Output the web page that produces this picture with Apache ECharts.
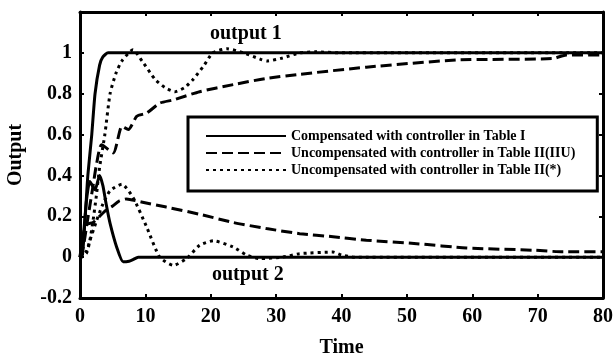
<!DOCTYPE html>
<html>
<head>
<meta charset="utf-8">
<script src="https://cdn.jsdelivr.net/npm/echarts@6/dist/echarts.min.js"></script>
<style>
  html, body { margin: 0; padding: 0; background: #fff; }
  #chart { width: 614px; height: 354px; }
</style>
</head>
<body>
<div id="chart"></div>
<script>
// [time, output] pairs
const comp1 = [[0, 0], [0.3, 0], [0.6, 0.1], [0.9, 0.25], [1.2, 0.4], [1.8, 0.6], [2.3, 0.8], [3, 0.94], [3.5, 0.98], [4.3, 1], [80, 1]]
const iiu1 = [[0, 0], [0.5, 0.05], [1, 0.15], [1.5, 0.25], [2, 0.35], [2.5, 0.45], [3.3, 0.55], [5.1, 0.51], [6.4, 0.64], [7.4, 0.625], [8.7, 0.69], [10.2, 0.705],
  [12.2, 0.754], [14.3, 0.77], [18.3, 0.81], [23.5, 0.845], [28.5, 0.875], [33.6, 0.895], [43.8, 0.93], [57.6, 0.965], [72.3, 0.972], [74.4, 0.99], [80, 0.99]]
const star1 = [[0, 0], [1, 0.02], [1.5, 0.08], [2, 0.18], [2.5, 0.3], [3, 0.44], [3.8, 0.6], [4.6, 0.8], [5.5, 0.9], [6.4, 0.96], [8.1, 1.015], [9.5, 0.96],
  [11.5, 0.87], [13, 0.83], [14.5, 0.81], [16, 0.83], [17.3, 0.87], [19, 0.94], [20.3, 1.0], [22.5, 1.02], [25, 1.0], [27.5, 0.97], [28.6, 0.96],
  [31, 0.975], [33.6, 1.0], [36, 1.005], [40, 1.0], [80, 1.0]]
const comp2 = [[0, 0], [0.5, 0.1], [1, 0.28], [1.5, 0.37], [2.3, 0.33], [3, 0.4], [3.5, 0.35], [4, 0.26], [4.6, 0.165], [5.6, 0.05], [6.6, -0.023],
  [7.5, -0.02], [8.1, -0.012], [8.9, 0], [80, 0]]
const iiu2 = [[0, 0], [0.4, 0.1], [1, 0.16], [2, 0.17], [3, 0.2], [4, 0.23], [5, 0.25], [6, 0.275], [7.1, 0.285], [9.4, 0.27], [13.2, 0.245],
  [18.3, 0.21], [23.4, 0.17], [28.5, 0.14], [33.6, 0.115], [38.7, 0.1], [43.8, 0.083], [51.5, 0.066], [59.1, 0.045], [69.3, 0.034], [73.9, 0.026], [80, 0.026]]
const star2 = [[0, 0], [1, 0.03], [1.5, 0.08], [2.55, 0.18], [3.5, 0.26], [4.6, 0.325], [6.4, 0.357], [8.15, 0.29], [10.2, 0.147], [12.2, 0.0], [14.3, -0.04],
  [16.3, -0.007], [18.3, 0.058], [20.4, 0.08], [23.4, 0.05], [25.5, 0.01], [27.5, -0.007], [31, 0], [33.6, 0.017], [38.7, 0.025], [40, 0.01], [42, 0], [80, 0]]

const names = ['Compensated with controller in Table I', 'Uncompensated with controller in Table II(IIU)', 'Uncompensated with controller in Table II(*)']
const xTicks = [0, 10, 20, 30, 40, 50, 60, 70, 80]
const yTicks = [-0.2, 0, 0.2, 0.4, 0.6, 0.8, 1]

const font = 'Liberation Serif'
const styles = [
  { color: '#000', width: 3, type: 'solid' },
  { color: '#000', width: 3, type: [11, 5] },
  { color: '#000', width: 3, type: [3, 4] }
]

function line(name, data, style) {
  return {
    name: name,
    type: 'line',
    data: data,
    symbol: 'none',
    smooth: 0.2,
    lineStyle: style,
    itemStyle: { color: '#000' },
    animation: false
  }
}

const tickLabel = { fontFamily: font, fontWeight: 'bold', fontSize: 20, color: '#000' }
const nameStyle = { fontFamily: font, fontWeight: 'bold', fontSize: 20, color: '#000' }
const frameLine = { show: true, onZero: false, lineStyle: { color: '#000', width: 3 } }
const frameTick = { show: true, inside: true, length: 4, lineStyle: { width: 2, color: '#000' } }

let chart = echarts.init(document.getElementById('chart'))
let option = {
  backgroundColor: '#fff',
  animation: false,
  grid: { left: 80, right: 11, top: 12, bottom: 56, outerBoundsMode: 'none', containLabel: false },
  legend: {
    orient: 'vertical',
    left: 188,
    top: 117,
    data: names,
    itemWidth: 80,
    itemHeight: 14,
    itemGap: 3,
    padding: [12, 22, 14, 17],
    backgroundColor: '#fff',
    borderColor: '#000',
    borderWidth: 3,
    borderRadius: 0,
    itemStyle: { color: 'transparent', borderWidth: 0 },
    textStyle: { fontFamily: font, fontWeight: 'bold', fontSize: 14, color: '#000' }
  },
  graphic: [
    { type: 'text', left: 210, top: 24, style: { text: 'output 1', font: 'bold 20px "Liberation Serif"', fill: '#000' } },
    { type: 'text', left: 212, top: 265, style: { text: 'output 2', font: 'bold 20px "Liberation Serif"', fill: '#000' } }
  ],
  xAxis: [
    {
      type: 'value', min: 0, max: 80, interval: 10,
      name: 'Time', nameLocation: 'middle', nameGap: 40,
      nameTextStyle: nameStyle,
      axisLine: frameLine,
      axisTick: frameTick,
      axisLabel: Object.assign({ margin: 9, formatter: v => xTicks.includes(v) ? String(v) : '' }, tickLabel),
      splitLine: { show: false }
    },
    {
      type: 'value', min: 0, max: 80, interval: 10, position: 'top',
      axisLine: frameLine,
      axisTick: frameTick,
      axisLabel: { show: false },
      splitLine: { show: false }
    }
  ],
  yAxis: [
    {
      type: 'value', min: -0.2, max: 1.2, interval: 0.2,
      name: 'Output', nameLocation: 'middle', nameGap: 54, nameRotate: 90,
      nameTextStyle: nameStyle,
      axisLine: frameLine,
      axisTick: frameTick,
      axisLabel: Object.assign({
        margin: 8,
        formatter: v => {
          let r = Math.round(v * 10) / 10
          return yTicks.includes(r) ? String(r) : ''
        }
      }, tickLabel),
      splitLine: { show: false }
    },
    {
      type: 'value', min: -0.2, max: 1.2, interval: 0.2, position: 'right',
      axisLine: frameLine,
      axisTick: frameTick,
      axisLabel: { show: false },
      splitLine: { show: false }
    }
  ],
  series: [
    line(names[0], comp1, styles[0]),
    line(names[1], iiu1, styles[1]),
    line(names[2], star1, styles[2]),
    line(names[0], comp2, styles[0]),
    line(names[1], iiu2, styles[1]),
    line(names[2], star2, styles[2])
  ]
}
chart.setOption(option)
</script>
</body>
</html>
